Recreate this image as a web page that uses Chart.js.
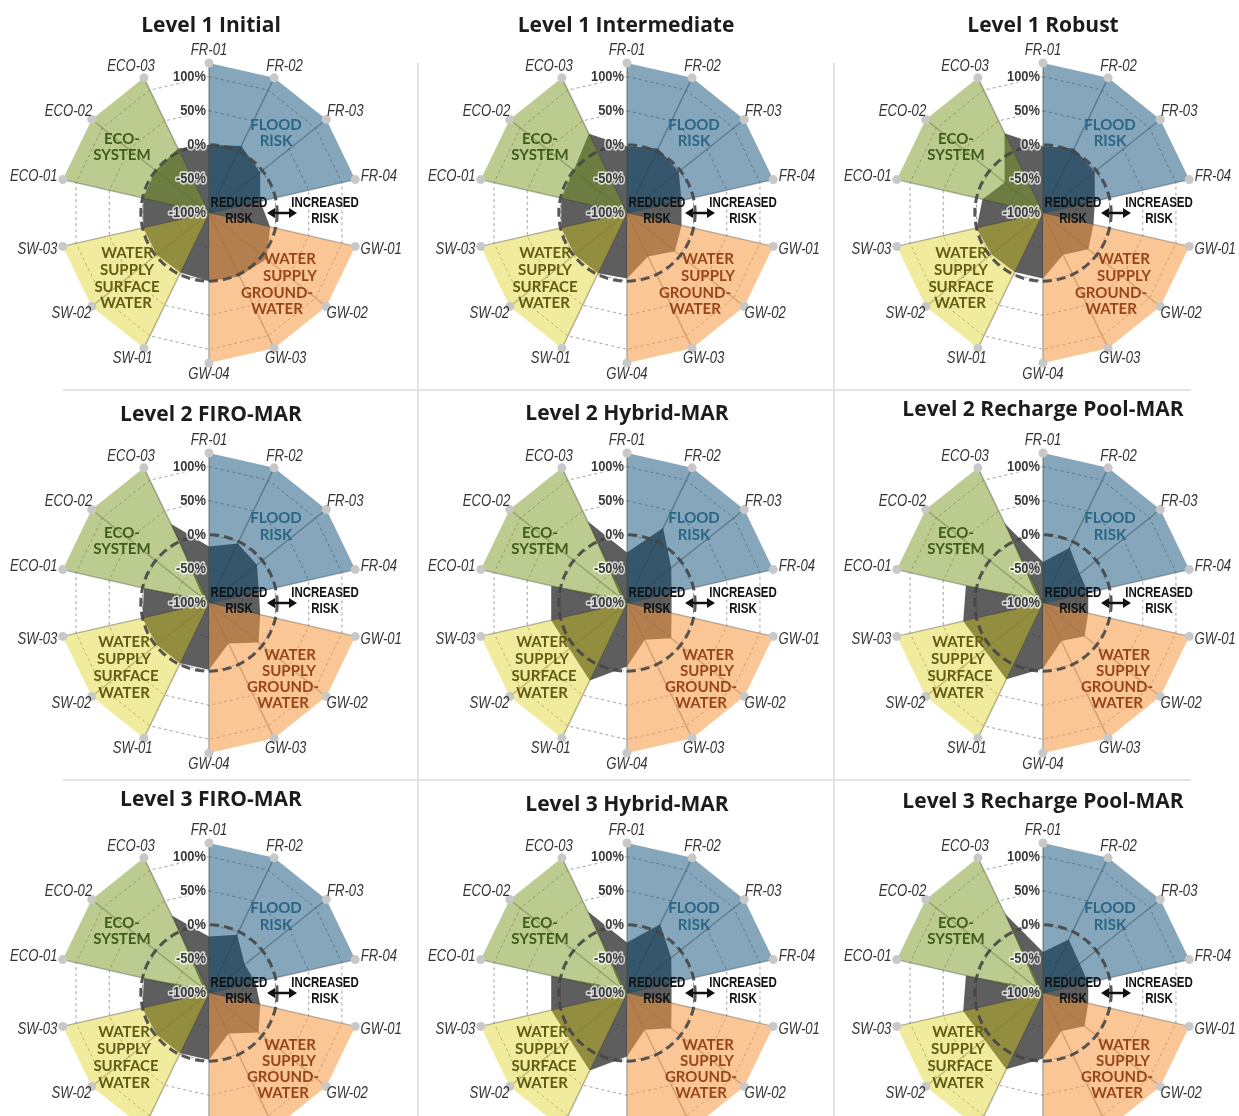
<!DOCTYPE html>
<html>
<head>
<meta charset="utf-8">
<script src="https://cdn.jsdelivr.net/npm/chart.js@4.4.1/dist/chart.umd.min.js"></script>
<style>
  html, body { margin: 0; padding: 0; overflow: hidden; background: #fff; }
  #page { position: relative; width: 1239px; height: 1116px; overflow: hidden; background: #fff; }
  .title { position: absolute; width: 440px; text-align: center; white-space: nowrap;
           font: 700 21px "Open Sans", Lato, sans-serif; color: #1c1c1c; line-height: 24px; z-index: 3; }
  .rule { position: absolute; background: #e3e3e3; z-index: 0; }
  canvas { position: absolute; z-index: 1; }
</style>
</head>
<body>
<div id="page"></div>
<script>
// ---- axes and value ticks -------------------------------------------------
const axisLabels = ['FR-01', 'FR-02', 'FR-03', 'FR-04', 'GW-01', 'GW-02', 'GW-03', 'GW-04',
                    'SW-01', 'SW-02', 'SW-03', 'ECO-01', 'ECO-02', 'ECO-03'];
const tickValues = [100, 50, 0, -50, -100];
const tickLabels = ['100%', '50%', '0%', '-50%', '-100%'];

// ---- indicator groups (each drawn as a coloured band) ----------------------
const floodAxes = ['FR-01', 'FR-02', 'FR-03', 'FR-04'];
const groundwaterAxes = ['GW-01', 'GW-02', 'GW-03', 'GW-04'];
const surfaceAxes = ['SW-01', 'SW-02', 'SW-03'];
const ecosystemAxes = ['ECO-01', 'ECO-02', 'ECO-03'];
const bandOuter = 120;     // outer reach of the group bands
const scaleMin = -100;     // centre of every chart

// ---- change in risk per indicator (%), one list per scenario ---------------
const panelTitles = ['Level 1 Initial', 'Level 1 Intermediate', 'Level 1 Robust',
                     'Level 2 FIRO-MAR', 'Level 2 Hybrid-MAR', 'Level 2 Recharge Pool-MAR',
                     'Level 3 FIRO-MAR', 'Level 3 Hybrid-MAR', 'Level 3 Recharge Pool-MAR'];
const level1Initial       = [0, 9, -4, -23, -8, 8, 3, 0, -3, -2, -1, -1, 0, 5];
const level1Intermediate  = [-2, 5, -3, -18, -18, -10, -29, -4, -2, -2, -1, -1, 0, 29];
const level1Robust        = [-2, 5, -3, -22, -24, -15, -32, -4, -4, -3, 0, -9, -28, 30];
const level2FiroMar       = [-17, -3, -10, -25, -23, -7, -34, -2, -2, -2, 0, -2, -90, 29];
const level2HybridMar     = [-26, 22, -17, -33, -33, -17, -40, -7, 26, 8, 14, 14, -90, 33];
const level2RechargePool  = [-40, -10, -31, -32, -32, -22, -38, -4, 24, 10, 20, 16, -90, 30];
const level3FiroMar       = [-17, -5, -33, -30, -23, -7, -34, -2, -2, -2, 0, -2, -90, 26];
const level3HybridMar     = [-26, 12, -17, -33, -33, -17, -40, -7, 26, 8, 14, 14, -90, 33];
const level3RechargePool  = [-40, -13, -31, -32, -32, -22, -38, -4, 24, 10, 20, 16, -90, 30];
const panelSeries = [level1Initial, level1Intermediate, level1Robust,
                     level2FiroMar, level2HybridMar, level2RechargePool,
                     level3FiroMar, level3HybridMar, level3RechargePool];

// ---- layout ---------------------------------------------------------------
const colCenters = [209, 627, 1043];
const rowCenters = [213, 603, 993];
const titleCenters = [[211, 24], [626, 24], [1043, 24],
                      [211, 413], [627, 412], [1043, 408],
                      [211, 798], [627, 803], [1043, 800]];
const CANVAS_W = 440, CANVAS_H = 400;

const SANS = "Lato, 'Open Sans', sans-serif";
const ARIAL_LIKE = "'Liberation Sans', Arimo, Arial, sans-serif";
const NARROW_X = 0.82;     // horizontal squeeze giving a condensed face

const colours = {
  flood: 'rgba(14, 80, 120, 0.5)',
  groundwater: 'rgba(246, 154, 68, 0.56)',
  surface: 'rgba(222, 208, 22, 0.42)',
  ecosystem: 'rgba(123, 153, 35, 0.51)',
  change: 'rgba(58, 58, 60, 0.82)',
  floodText: '#2a6687', ecoText: '#3e5c1f', swText: '#625c16', gwText: '#974619'
};

// text blocks inside the bands, offsets from the chart centre
const regionTextUpper = [
  ['FLOOD', 'floodText', 67, -88], ['RISK', 'floodText', 67, -72],
  ['ECO-', 'ecoText', -87, -74], ['SYSTEM', 'ecoText', -87, -58],
  ['WATER', 'swText', -82, 40], ['SUPPLY', 'swText', -82, 57], ['SURFACE', 'swText', -82, 74], ['WATER', 'swText', -83, 90],
  ['WATER', 'gwText', 81, 46], ['SUPPLY', 'gwText', 81, 63], ['GROUND-', 'gwText', 68, 80], ['WATER', 'gwText', 68, 96]
];
const regionTextLower = [
  ['FLOOD', 'floodText', 67, -85], ['RISK', 'floodText', 67, -68],
  ['ECO-', 'ecoText', -87, -70], ['SYSTEM', 'ecoText', -87, -54],
  ['WATER', 'swText', -85, 39], ['SUPPLY', 'swText', -85, 56], ['SURFACE', 'swText', -83, 73], ['WATER', 'swText', -85, 90],
  ['WATER', 'gwText', 81, 52], ['SUPPLY', 'gwText', 80, 68], ['GROUND-', 'gwText', 74, 84], ['WATER', 'gwText', 74, 100]
];

// condensed text: the face is squeezed horizontally around the anchor point
function narrowText(ctx, text, x, y, halo, squeeze = NARROW_X) {
  ctx.save();
  ctx.translate(x, y);
  ctx.scale(squeeze, 1);
  if (halo) {
    ctx.lineJoin = 'round';
    ctx.lineWidth = 3.5;
    ctx.strokeStyle = halo;
    ctx.strokeText(text, 0, 0);
  }
  ctx.fillText(text, 0, 0);
  ctx.restore();
}

// ---- overlay drawn on top of the datasets ---------------------------------
const riskOverlay = {
  id: 'riskOverlay',
  afterDatasetsDraw(chart, args, opts) {
    const ctx = chart.ctx;
    const s = chart.scales.r;
    const cx = s.xCenter, cy = s.yCenter;
    ctx.save();

    // no-change ring
    ctx.beginPath();
    ctx.setLineDash([9, 5]);
    ctx.lineWidth = 3;
    ctx.strokeStyle = 'rgba(70, 70, 70, 0.9)';
    ctx.arc(cx, cy, s.getDistanceFromCenterForValue(0), 0, Math.PI * 2);
    ctx.stroke();
    ctx.setLineDash([]);

    // band names
    ctx.textAlign = 'center';
    ctx.textBaseline = 'middle';
    ctx.font = `700 15px ${SANS}`;
    (opts.lower ? regionTextLower : regionTextUpper).forEach(([t, c, dx, dy]) => {
      ctx.fillStyle = colours[c];
      ctx.fillText(t, cx + dx, cy + dy);
    });

    // reduced / increased risk marker
    ctx.fillStyle = '#111';
    ctx.font = `700 14px ${ARIAL_LIKE}`;
    narrowText(ctx, 'REDUCED', cx + 30, cy - 10);
    narrowText(ctx, 'RISK', cx + 30, cy + 6);
    narrowText(ctx, 'INCREASED', cx + 116, cy - 10);
    narrowText(ctx, 'RISK', cx + 116, cy + 6);
    const ax0 = cx + 58, ax1 = cx + 88;
    ctx.strokeStyle = '#111';
    ctx.lineWidth = 2.5;
    ctx.beginPath();
    ctx.moveTo(ax0 + 5, cy); ctx.lineTo(ax1 - 5, cy);
    ctx.stroke();
    ctx.beginPath();
    ctx.moveTo(ax0, cy); ctx.lineTo(ax0 + 8, cy - 5); ctx.lineTo(ax0 + 8, cy + 5); ctx.closePath();
    ctx.moveTo(ax1, cy); ctx.lineTo(ax1 - 8, cy - 5); ctx.lineTo(ax1 - 8, cy + 5); ctx.closePath();
    ctx.fill();

    // value ticks along the first axis
    ctx.font = `700 15px ${ARIAL_LIKE}`;
    ctx.textAlign = 'right';
    ctx.fillStyle = '#3b3b3b';
    tickValues.forEach((v, i) => {
      const y = cy - s.getDistanceFromCenterForValue(v);
      narrowText(ctx, tickLabels[i], cx - 3, y, 'rgba(255,255,255,0.7)', 0.86);
    });

    // indicator names around the rim
    ctx.font = `italic 16px ${ARIAL_LIKE}`;
    ctx.textAlign = 'center';
    ctx.fillStyle = '#333';
    const rim = s.getDistanceFromCenterForValue(bandOuter) + 6;
    axisLabels.forEach((lab, i) => {
      const p = s.getPointPosition(i, rim);
      const a = s.getIndexAngle(i);
      const w = ctx.measureText(lab).width * NARROW_X;
      narrowText(ctx, lab, p.x + Math.sin(a) * w / 2, p.y - Math.cos(a) * 6);
    });
    ctx.restore();
  }
};

function band(axes, fillColour) {
  return {
    data: axisLabels.map(a => axes.includes(a) ? bandOuter : scaleMin),
    backgroundColor: fillColour,
    borderWidth: 0,
    fill: 'start',
    pointRadius: c => (c.raw === bandOuter ? 4.5 : 0),
    pointBackgroundColor: '#c8c8c8',
    pointBorderWidth: 0,
    order: 1
  };
}

const page = document.getElementById('page');

// panel separators
[[63, 389, 1128, 2], [63, 779, 1128, 2], [417, 63, 2, 1060], [833, 63, 2, 1060]].forEach(([l, t, w, h]) => {
  const d = document.createElement('div');
  d.className = 'rule';
  d.style.cssText = `left:${l}px;top:${t}px;width:${w}px;height:${h}px`;
  page.appendChild(d);
});

panelSeries.forEach((values, k) => {
  const cx = colCenters[k % 3], cy = rowCenters[Math.floor(k / 3)];
  const canvas = document.createElement('canvas');
  canvas.width = CANVAS_W; canvas.height = CANVAS_H;
  canvas.style.left = (cx - CANVAS_W / 2) + 'px';
  canvas.style.top = (cy - CANVAS_H / 2) + 'px';
  canvas.style.width = CANVAS_W + 'px';
  canvas.style.height = CANVAS_H + 'px';
  page.appendChild(canvas);

  const title = document.createElement('div');
  title.className = 'title';
  title.textContent = panelTitles[k];
  title.style.left = (titleCenters[k][0] - 220) + 'px';
  title.style.top = (titleCenters[k][1] - 12) + 'px';
  page.appendChild(title);

  new Chart(canvas, {
    type: 'radar',
    data: {
      labels: axisLabels,
      datasets: [
        band(floodAxes, colours.flood),
        band(groundwaterAxes, colours.groundwater),
        band(surfaceAxes, colours.surface),
        band(ecosystemAxes, colours.ecosystem),
        {
          label: panelTitles[k],
          data: values,
          backgroundColor: colours.change,
          borderWidth: 0,
          pointRadius: 0,
          fill: 'start',
          order: 2
        }
      ]
    },
    options: {
      responsive: false,
      animation: false,
      devicePixelRatio: 1,
      events: [],
      layout: { padding: { left: 70, right: 70, top: 50, bottom: 50 } },
      elements: { line: { tension: 0 } },
      plugins: {
        legend: { display: false },
        tooltip: { enabled: false },
        riskOverlay: { lower: k >= 3 }
      },
      scales: {
        r: {
          min: scaleMin,
          max: bandOuter,
          startAngle: 0,
          ticks: { display: false, stepSize: 50 },
          pointLabels: { display: false },
          grid: {
            color: c => (c.tick && c.tick.value > scaleMin && c.tick.value <= 100 ? '#a2a2a2' : 'transparent'),
            lineWidth: 1
          },
          border: { dash: [3, 3] },
          angleLines: { color: 'rgba(100,100,100,0.55)', lineWidth: 1.5 }
        }
      }
    },
    plugins: [riskOverlay]
  });
});
</script>
</body>
</html>
